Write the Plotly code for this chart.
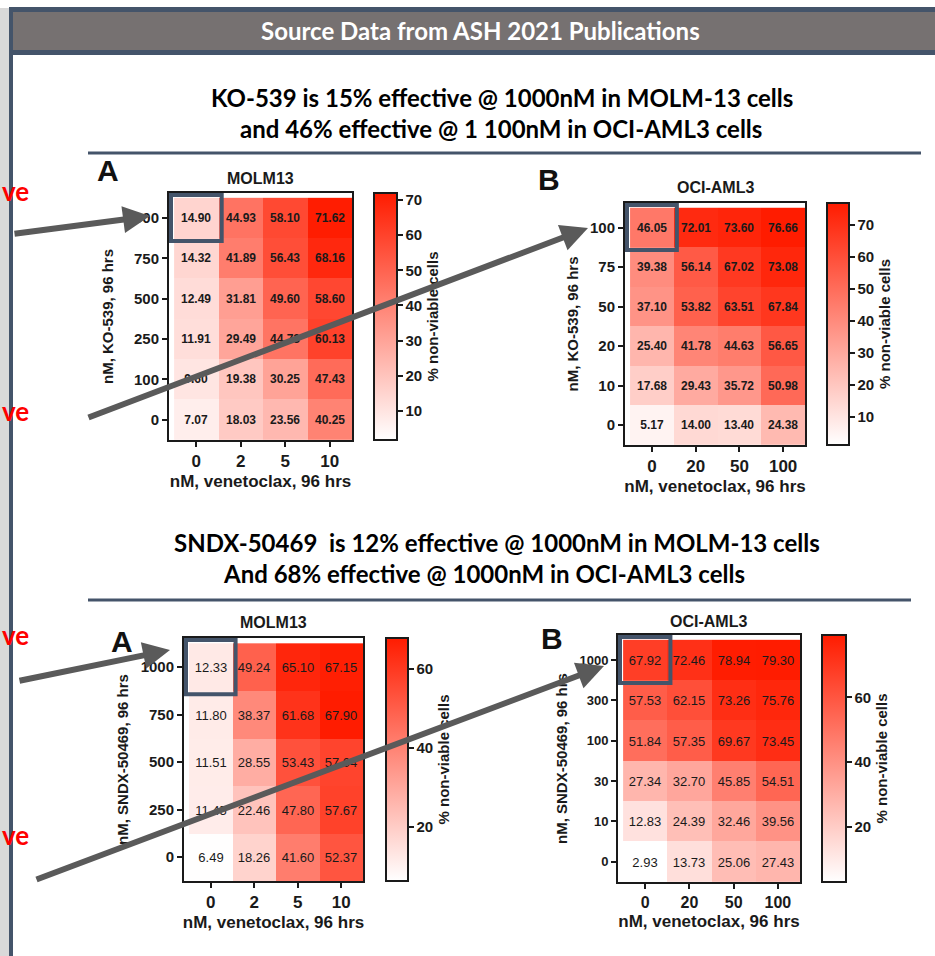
import plotly.graph_objects as go

W, H = 935, 956

# ---------------- data ----------------
ko_molm_x = ['0', '2', '5', '10']
ko_molm_y = ['0', '100', '250', '500', '750', '1000']
ko_molm_z = [
    [7.07, 18.03, 23.56, 40.25],
    [9.60, 19.38, 30.25, 47.43],
    [11.91, 29.49, 44.73, 60.13],
    [12.49, 31.81, 49.60, 58.60],
    [14.32, 41.89, 56.43, 68.16],
    [14.90, 44.93, 58.10, 71.62],
]

ko_oci_x = ['0', '20', '50', '100']
ko_oci_y = ['0', '10', '20', '50', '75', '100']
ko_oci_z = [
    [5.17, 14.00, 13.40, 24.38],
    [17.68, 29.43, 35.72, 50.98],
    [25.40, 41.78, 44.63, 56.65],
    [37.10, 53.82, 63.51, 67.84],
    [39.38, 56.14, 67.02, 73.08],
    [46.05, 72.01, 73.60, 76.66],
]

sndx_molm_x = ['0', '2', '5', '10']
sndx_molm_y = ['0', '250', '500', '750', '1000']
sndx_molm_z = [
    [6.49, 18.26, 41.60, 52.37],
    [11.45, 22.46, 47.80, 57.67],
    [11.51, 28.55, 53.43, 57.04],
    [11.80, 38.37, 61.68, 67.90],
    [12.33, 49.24, 65.10, 67.15],
]

sndx_oci_x = ['0', '20', '50', '100']
sndx_oci_y = ['0', '10', '30', '100', '300', '1000']
sndx_oci_z = [
    [2.93, 13.73, 25.06, 27.43],
    [12.83, 24.39, 32.46, 39.56],
    [27.34, 32.70, 45.85, 54.51],
    [51.84, 57.35, 69.67, 73.45],
    [57.53, 62.15, 73.26, 75.76],
    [67.92, 72.46, 78.94, 79.30],
]

header_text = "Source Data from ASH 2021 Publications"
title_top = ["KO-539 is 15% effective @ 1000nM in MOLM-13 cells",
             "and 46% effective @ 1 100nM in OCI-AML3 cells"]
title_bottom = ["SNDX-50469  is 12% effective @ 1000nM in MOLM-13 cells",
                "And 68% effective @ 1000nM in OCI-AML3 cells"]
x_title = "nM, venetoclax, 96 hrs"
cb_title = "% non-viable cells"

# ---------------- helpers ----------------
def fx(p):
    return p / W

def fy(p):
    return 1 - p / H

BLUE = "#44546A"
ARIAL = "Liberation Sans, Arial, sans-serif"
SLIDE = "Lato, Open Sans, sans-serif"
INK = "#1a1a1a"
scale = [[0, "rgb(255,255,255)"], [1, "rgb(255,28,0)"]]

panels = [
    dict(x=ko_molm_x, y=ko_molm_y, z=ko_molm_z, name="MOLM13", ytitle="nM, KO-539, 96 hrs",
         box=(169, 352, 193, 440), cb=(374, 397), zr=(1.7, 72), dt=10, cw="bold",
         tf=15, xtf=17, cf=12, letter="A", lpos=(108, 170), tpos=(260, 178)),
    dict(x=ko_oci_x, y=ko_oci_y, z=ko_oci_z, name="OCI-AML3", ytitle="nM, KO-539, 96 hrs",
         box=(625, 805, 203, 445), cb=(827, 849), zr=(1.3, 76.7), dt=10, cw="bold",
         tf=15, xtf=17, cf=12, letter="B", lpos=(549, 179), tpos=(715, 187)),
    dict(x=sndx_molm_x, y=sndx_molm_y, z=sndx_molm_z, name="MOLM13", ytitle="nM, SNDX-50469, 96 hrs",
         box=(184, 363, 638, 881), cb=(386, 408), zr=(6.3, 67.9), dt=20, cw="normal",
         tf=15, xtf=17, cf=13, letter="A", lpos=(122, 641), tpos=(273, 622)),
    dict(x=sndx_oci_x, y=sndx_oci_y, z=sndx_oci_z, name="OCI-AML3", ytitle="nM, SNDX-50469, 96 hrs",
         box=(618, 800, 635, 882), cb=(822, 846), zr=(2.9, 79.3), dt=20, cw="normal",
         tf=13, xtf=16, cf=13, letter="B", lpos=(552, 638), tpos=(708, 621)),
]

fig = go.Figure()
shapes = []
annotations = []

def note(text, px, py, size, color, family, xanchor="center"):
    annotations.append(dict(text=text, xref="paper", yref="paper", x=fx(px), y=fy(py),
                            xanchor=xanchor, yanchor="middle", showarrow=False,
                            font=dict(family=family, size=size, color=color)))

# background elements
shapes.append(dict(type="rect", xref="paper", yref="paper", x0=0, x1=fx(10), y0=0, y1=fy(8),
                   fillcolor="#D9D9D9", line_width=0, layer="below"))
for (x0, x1, y0, y1) in [(83, 456, 157, 497), (520, 900, 160, 497), (87, 472, 605, 932), (495, 900, 605, 937)]:
    shapes.append(dict(type="rect", xref="paper", yref="paper", x0=fx(x0), x1=fx(x1), y0=fy(y1), y1=fy(y0),
                       fillcolor="white", line_width=0, layer="below"))
shapes.append(dict(type="rect", xref="paper", yref="paper", x0=fx(9), x1=1, y0=fy(55), y1=fy(7),
                   fillcolor=BLUE, line_width=0, layer="below"))
shapes.append(dict(type="rect", xref="paper", yref="paper", x0=fx(13), x1=1, y0=fy(50), y1=fy(12),
                   fillcolor="#767171", line_width=0, layer="below"))
shapes.append(dict(type="rect", xref="paper", yref="paper", x0=fx(9), x1=fx(13), y0=0, y1=fy(7),
                   fillcolor=BLUE, line_width=0, layer="below"))
shapes.append(dict(type="line", xref="paper", yref="paper", x0=fx(88), x1=fx(921), y0=fy(153), y1=fy(153),
                   line=dict(color=BLUE, width=3), layer="below"))
shapes.append(dict(type="line", xref="paper", yref="paper", x0=fx(88), x1=fx(911), y0=fy(600), y1=fy(600),
                   line=dict(color=BLUE, width=3), layer="below"))

note("<b>%s</b>" % header_text, 480, 31, 24, "white", SLIDE)
for txt, cx, cy in [(title_top[0], 502, 97), (title_top[1], 501, 128),
                    (title_bottom[0], 497, 542), (title_bottom[1], 484, 573)]:
    note("<b>%s</b>" % txt, cx, cy, 24, "black", SLIDE)
for cy in [191, 411, 635, 835]:
    note("<b>ve</b>", 0, cy, 26, "#FF0000", SLIDE, xanchor="left")

for i, p in enumerate(panels, start=1):
    x0, x1, y0, y1 = p["box"]
    xa = "x" if i == 1 else "x%d" % i
    ya = "y" if i == 1 else "y%d" % i
    fam = ARIAL
    fig.add_trace(go.Heatmap(
        x=p["x"], y=p["y"], z=p["z"], xaxis=xa, yaxis=ya,
        colorscale=scale, zmin=p["zr"][0], zmax=p["zr"][1],
        texttemplate="%{z:.2f}",
        textfont=dict(family=fam, size=p["cf"], color=INK, weight=p["cw"]),
        hoverinfo="skip",
        colorbar=dict(
            x=fx(p["cb"][0]), xanchor="left", xpad=0, ypad=0,
            y=fy((y0 + y1) / 2), yanchor="middle",
            len=y1 - y0, lenmode="pixels", thickness=p["cb"][1] - p["cb"][0],
            outlinewidth=2, outlinecolor=INK, ticks="outside", ticklen=5, tickwidth=2,
            tickcolor=INK, dtick=p["dt"], tick0=0,
            tickfont=dict(family=fam, size=15, color=INK, weight="bold"),
            title=dict(text="<b>%s</b>" % cb_title, side="right", font=dict(family=fam, size=15, color=INK)),
        ),
    ))
    axx = dict(domain=[fx(x0), fx(x1)], anchor=ya, type="category",
               showline=True, linecolor=INK, linewidth=2, mirror=True,
               ticks="outside", ticklen=5, tickwidth=2, tickcolor=INK,
               tickfont=dict(family=fam, size=p["xtf"], color=INK, weight="bold"),
               title=dict(text="<b>%s</b>" % x_title, standoff=5, font=dict(family=fam, size=17, color=INK)),
               showgrid=False, zeroline=False, fixedrange=True)
    axy = dict(domain=[fy(y1), fy(y0)], anchor=xa, type="category",
               showline=True, linecolor=INK, linewidth=2, mirror=True,
               ticks="outside", ticklen=5, tickwidth=2, tickcolor=INK,
               tickfont=dict(family=fam, size=p["tf"], color=INK, weight="bold"),
               title=dict(text="<b>%s</b>" % p["ytitle"], standoff=8, font=dict(family=fam, size=15, color=INK)),
               showgrid=False, zeroline=False, fixedrange=True)
    fig.update_layout(**{("xaxis" if i == 1 else "xaxis%d" % i): axx,
                         ("yaxis" if i == 1 else "yaxis%d" % i): axy})
    note("<b>%s</b>" % p["name"], p["tpos"][0], p["tpos"][1], 16, INK, fam)
    note("<b>%s</b>" % p["letter"], p["lpos"][0], p["lpos"][1], 30, "#111", fam)
    ntop = len(p["y"]) - 1
    shapes.append(dict(type="rect", xref=xa, yref=ya, x0=-0.57, x1=0.57, y0=ntop - 0.57, y1=ntop + 0.57,
                       line=dict(color=BLUE, width=4), layer="above"))

# arrows (tip, tail) in pixels
for (hx, hy, tx, ty) in [(150, 216, 13, 234), (588, 228, 87, 418), (170, 650, 18, 681), (604, 666, 35, 880)]:
    annotations.append(dict(text="", xref="paper", yref="paper", x=fx(hx), y=fy(hy),
                            ax=tx - hx, ay=ty - hy, showarrow=True, arrowhead=2, arrowsize=0.9,
                            arrowwidth=6, arrowcolor="#5A5A5A", standoff=0))

fig.update_layout(width=W, height=H, margin=dict(l=0, r=0, t=0, b=0),
                  paper_bgcolor="white", plot_bgcolor="white",
                  shapes=shapes, annotations=annotations, showlegend=False)

fig.write_html("out.html", config={"displayModeBar": False},
               post_script="document.body.style.margin='0';document.body.style.overflow='hidden';")
